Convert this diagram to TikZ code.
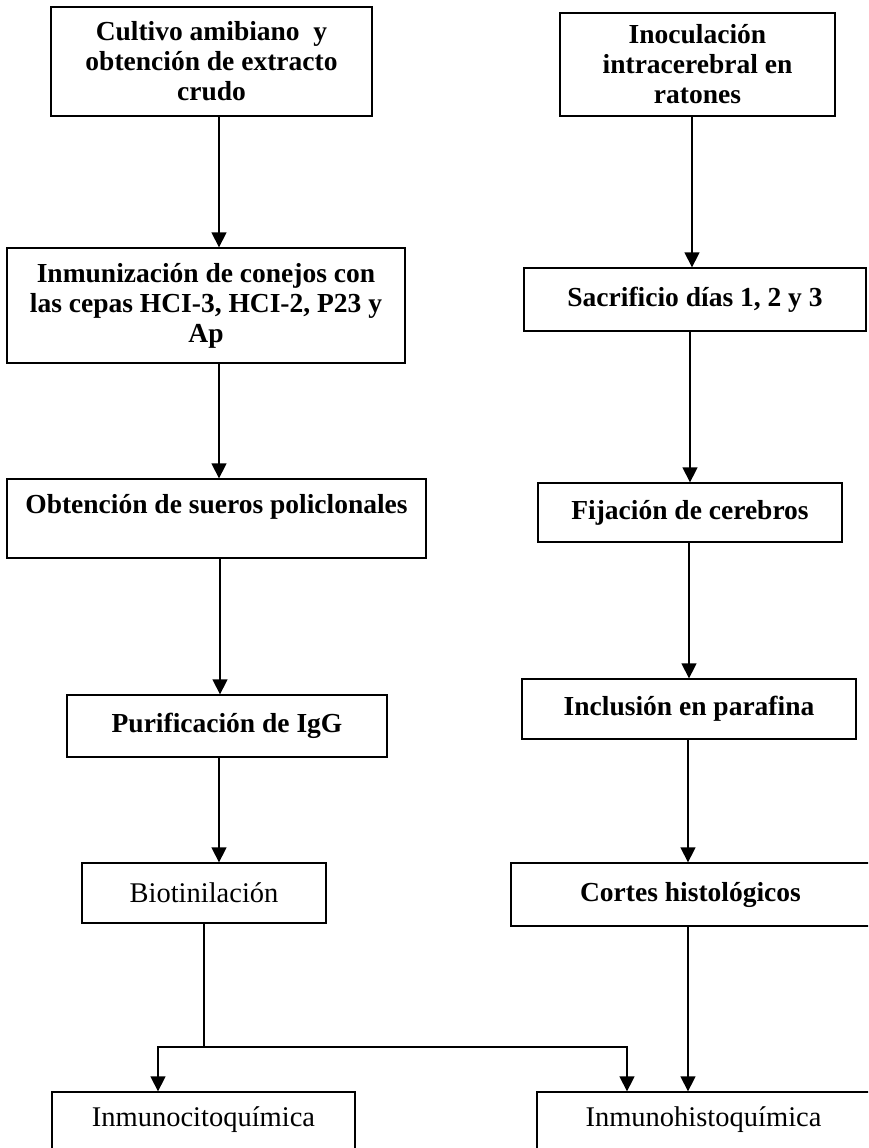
\documentclass[tikz,border=0pt]{standalone}
\usepackage{fontspec}
\setmainfont{Liberation Serif}
\usetikzlibrary{arrows.meta}
\begin{document}
\begin{tikzpicture}[x=1pt,y=-1pt,
  box/.style={draw, line width=1.3pt, inner sep=0pt, align=center,
    font=\fontsize{27.5}{30}\selectfont\bfseries},
  plain/.style={box, font=\fontsize{28.5}{30}\selectfont},
  arr/.style={line width=1.3pt, -{Triangle[width=15pt,length=15pt]}},
  ln/.style={line width=1.3pt}]
\useasboundingbox (0,0) rectangle (868,1148);
\clip (0,0) rectangle (868,1148);
% left column
\node[box, minimum width=321pt, minimum height=109pt] (L1) at (211.5,61.5)
  {Cultivo amibiano\ \ y\\obtención de extracto\\crudo};
\node[box, minimum width=398pt, minimum height=115pt] (L2) at (206,305.5)
  {Inmunización de conejos con\\las cepas HCI-3, HCI-2, P23 y\\Ap};
\node[box, minimum width=419pt, minimum height=79pt] (L3) at (216.5,518.5)
  {Obtención de sueros policlonales\\\mbox{}};
\node[box, minimum width=320pt, minimum height=62pt] (L4) at (227,726)
  {Purificación de IgG};
\node[plain, minimum width=244pt, minimum height=60pt] (L5) at (204,893)
  {Biotinilación};
\node[plain, minimum width=303pt, minimum height=80pt] (L6) at (203.5,1132)
  {Inmunocitoquímica\\\mbox{}};
% right column
\node[box, minimum width=275pt, minimum height=103pt] (R1) at (697.5,64.5)
  {Inoculación\\intracerebral en\\ratones};
\node[box, minimum width=342pt, minimum height=63pt] (R2) at (695,299.5)
  {Sacrificio días 1, 2 y 3};
\node[box, minimum width=304pt, minimum height=59pt] (R3) at (690,512.5)
  {Fijación de cerebros};
\node[box, minimum width=334pt, minimum height=60pt] (R4) at (689,709)
  {Inclusión en parafina};
\node[box, minimum width=359pt, minimum height=63pt] (R5) at (690.5,894.5)
  {Cortes histológicos};
\node[plain, minimum width=333pt, minimum height=80pt] (R6) at (703.5,1132)
  {Inmunohistoquímica\\\mbox{}};
% connectors left
\draw[arr] ([xshift=7.5pt]L1.south) -- ([xshift=13pt]L2.north);
\draw[arr] ([xshift=13pt]L2.south) -- ([xshift=2.5pt]L3.north);
\draw[arr] ([xshift=3.5pt]L3.south) -- ([xshift=-7pt]L4.north);
\draw[arr] ([xshift=-8pt]L4.south) -- ([xshift=15pt]L5.north);
\coordinate (J) at (204,1047);
\draw[ln] (L5.south) -- (J);
\draw[arr] (J) -| ([xshift=-45.5pt]L6.north);
\draw[arr] (J) -| ([xshift=-76.5pt]R6.north);
% connectors right
\draw[arr] ([xshift=-5.5pt]R1.south) -- ([xshift=-3pt]R2.north);
\draw[arr] ([xshift=-5pt]R2.south) -- (R3.north);
\draw[arr] ([xshift=-1pt]R3.south) -- (R4.north);
\draw[arr] ([xshift=-1pt]R4.south) -- ([xshift=-2.5pt]R5.north);
\draw[arr] ([xshift=-2.5pt]R5.south) -- ([xshift=-15.5pt]R6.north);
\end{tikzpicture}
\end{document}
